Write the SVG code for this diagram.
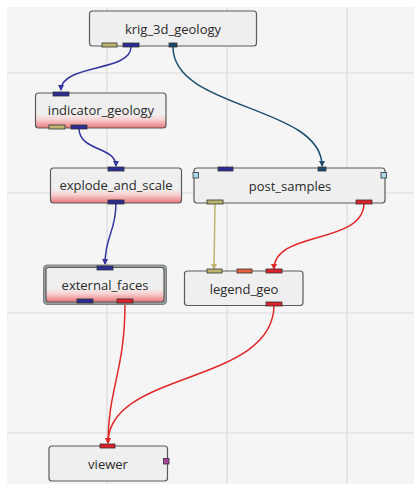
<svg xmlns="http://www.w3.org/2000/svg" width="414" height="484" viewBox="0 0 414 484">
<defs>
<linearGradient id="redfade" x1="0" y1="0" x2="0" y2="1">
<stop offset="0" stop-color="#efefef"/>
<stop offset="0.6" stop-color="#efefef"/>
<stop offset="0.75" stop-color="#f8d4d4"/>
<stop offset="1" stop-color="#e8777a"/>
</linearGradient>
<marker id="ab" viewBox="0 0 6 6" refX="3" refY="6" markerWidth="6" markerHeight="6" orient="auto-start-reverse" markerUnits="userSpaceOnUse">
<path d="M0,0 L6,0 L3,6 Z" fill="context-stroke"/>
</marker>
<marker id="ab-blue" viewBox="0 0 6 6" refX="3" refY="5" markerWidth="6" markerHeight="6" markerUnits="userSpaceOnUse"><path d="M0,0 L6,0 L3,6 Z" fill="#3535a0"/></marker>
<marker id="ab-teal" viewBox="0 0 6 6" refX="3" refY="5" markerWidth="6" markerHeight="6" markerUnits="userSpaceOnUse"><path d="M0,0 L6,0 L3,6 Z" fill="#1f4f6f"/></marker>
<marker id="ab-khaki" viewBox="0 0 6 6" refX="3" refY="5" markerWidth="6" markerHeight="6" markerUnits="userSpaceOnUse"><path d="M0,0 L6,0 L3,6 Z" fill="#bdb56e"/></marker>
<marker id="ab-red" viewBox="0 0 6 6" refX="3" refY="5" markerWidth="6" markerHeight="6" markerUnits="userSpaceOnUse"><path d="M0,0 L6,0 L3,6 Z" fill="#e02828"/></marker>
</defs>
<style>
.node{fill:#efefef;stroke:#5a5a5a;stroke-width:1.2}
.grad{fill:url(#redfade)}
.lbl{font-family:"Open Sans","Noto Sans","Liberation Sans",sans-serif;font-size:13px;fill:#2a2a2a;text-anchor:middle;dominant-baseline:central}
.port{stroke:#333;stroke-width:0.8}
.khaki{fill:#bdb56e}
.blue{fill:#2c2c96}
.teal{fill:#1d4a6c}
.red{fill:#e0202a}
.orange{fill:#e8603f}
.lblue{fill:#a9d9ea}
.mag{fill:#a8449e}
.grid{stroke:#dcdcdc;stroke-width:1.2}
.c{fill:none;stroke-width:1.5}
</style>
<rect x="0" y="0" width="414" height="484" fill="#ffffff"/>
<rect x="7" y="7" width="407" height="477" fill="#f5f5f5"/>
<g id="grid">
<line class="grid" x1="107" y1="7" x2="107" y2="484"/>
<line class="grid" x1="227" y1="7" x2="227" y2="484"/>
<line class="grid" x1="347" y1="7" x2="347" y2="484"/>
<line class="grid" x1="7" y1="73" x2="414" y2="73"/>
<line class="grid" x1="7" y1="193" x2="414" y2="193"/>
<line class="grid" x1="7" y1="313" x2="414" y2="313"/>
<line class="grid" x1="7" y1="433" x2="414" y2="433"/>
</g>
<g id="connectors">
<path class="c" stroke="#3535a0" d="M131,47 C131,72 61,64 61,90" marker-end="url(#ab-blue)"/>
<path class="c" stroke="#1f4f6f" d="M173,47 C173,110 322,105 322,166" marker-end="url(#ab-teal)"/>
<path class="c" stroke="#3535a0" d="M79,128 C79,152 116,146 116,166" marker-end="url(#ab-blue)"/>
<path class="c" stroke="#3535a0" d="M116,203 C116,232 105,236 105,264" marker-end="url(#ab-blue)"/>
<path class="c" stroke="#bdb56e" d="M215,203 L214,269" marker-end="url(#ab-khaki)"/>
<path class="c" stroke="#e02828" d="M364,203 C364,245 274,230 274,269" marker-end="url(#ab-red)"/>
<path class="c" stroke="#e02828" d="M125,304 C125,370 108,390 108,443" marker-end="url(#ab-red)"/>
<path class="c" stroke="#e02828" d="M274,305 C274,385 108,370 108,443" marker-end="url(#ab-red)"/>
</g>
<g id="krig_3d_geology">
<rect class="node" x="89.5" y="11" width="167" height="35" rx="3"/>
<text class="lbl" x="173" y="29">krig_3d_geology</text>
<rect class="port khaki" x="102" y="43" width="15" height="4"/>
<rect class="port blue" x="123" y="43" width="16" height="4"/>
<rect class="port teal" x="169" y="43" width="8" height="4"/>
</g>
<g id="indicator_geology">
<rect class="node grad" x="35.5" y="93" width="130.5" height="35" rx="3"/>
<text class="lbl" x="101" y="110">indicator_geology</text>
<rect class="port blue" x="53" y="92" width="16" height="4"/>
<rect class="port khaki" x="49" y="125" width="16" height="4"/>
<rect class="port blue" x="71" y="125" width="16" height="4"/>
</g>
<g id="explode_and_scale">
<rect class="node grad" x="50.5" y="168" width="131" height="35" rx="3"/>
<text class="lbl" x="116" y="185">explode_and_scale</text>
<rect class="port blue" x="108" y="167" width="16" height="4"/>
<rect class="port blue" x="108" y="200" width="16" height="4"/>
</g>
<g id="post_samples">
<rect class="node" x="194" y="168" width="191" height="35" rx="3"/>
<text class="lbl" x="290" y="186">post_samples</text>
<rect class="port blue" x="218" y="167" width="15" height="4"/>
<rect class="port teal" x="318" y="167" width="8" height="4"/>
<rect class="port lblue" x="193" y="172.5" width="5.5" height="5.5"/>
<rect class="port lblue" x="381" y="172.5" width="5.5" height="5.5"/>
<rect class="port khaki" x="207" y="200" width="16" height="4"/>
<rect class="port red" x="356" y="200" width="16" height="4"/>
</g>
<g id="external_faces">
<rect x="43.5" y="265" width="123" height="39.5" rx="3.5" fill="#9aa0a0" stroke="#7a8080" stroke-width="1"/>
<rect class="node grad" x="46" y="267.5" width="118" height="34.5" rx="2.5"/>
<text class="lbl" x="105" y="285">external_faces</text>
<rect class="port blue" x="97" y="266" width="16" height="4"/>
<rect class="port blue" x="77" y="299" width="16" height="4"/>
<rect class="port red" x="117" y="299" width="16" height="4"/>
</g>
<g id="legend_geo">
<rect class="node" x="184.5" y="271" width="118.5" height="34.5" rx="3"/>
<text class="lbl" x="244" y="288.5">legend_geo</text>
<rect class="port khaki" x="207" y="269" width="15" height="4"/>
<rect class="port orange" x="237" y="269" width="15" height="4"/>
<rect class="port red" x="266" y="269" width="16" height="4"/>
<rect class="port red" x="266" y="302" width="16" height="4"/>
</g>
<g id="viewer">
<rect class="node" x="49" y="446" width="118.5" height="35" rx="3"/>
<text class="lbl" x="108" y="464">viewer</text>
<rect class="port red" x="100" y="444" width="15" height="4"/>
<rect class="port mag" x="163.5" y="458.5" width="5.5" height="5.5"/>
</g>
</svg>
